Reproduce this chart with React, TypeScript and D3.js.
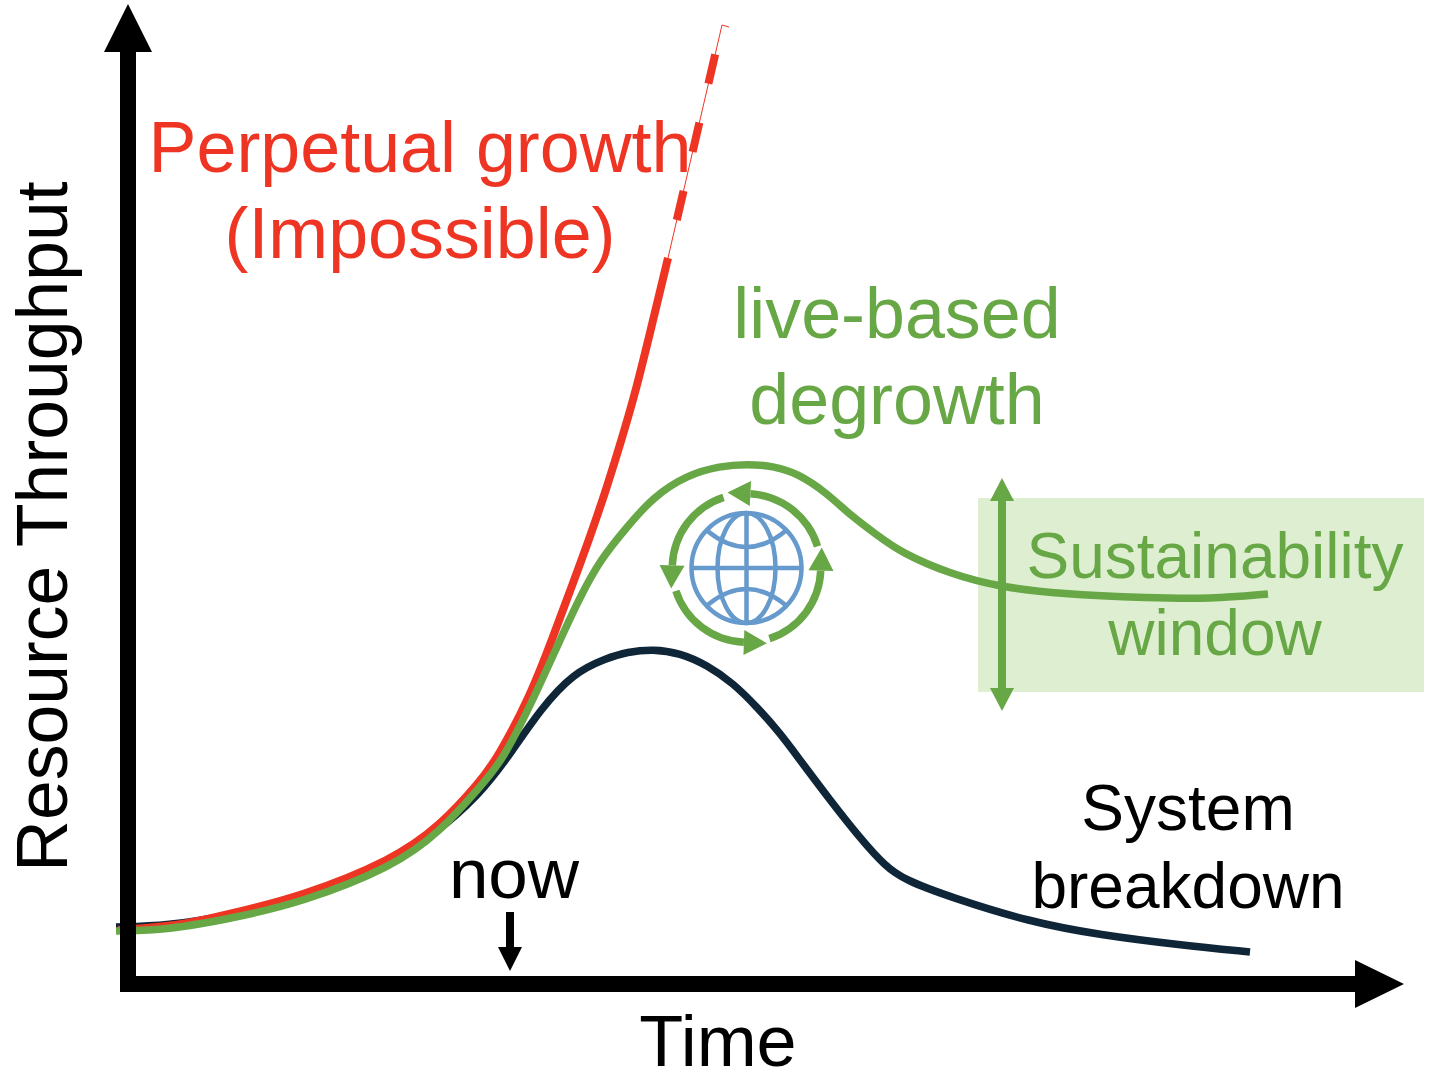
import * as d3 from 'd3';

// Values: time and throughput, in picture units from the axis origin.
const BREAKDOWN = [
  [-12, 57], [39, 58], [105, 69], [172, 85], [252, 114], [302, 146], [352, 189], [385, 234], [412, 274],
  [445, 311], [479, 326], [499, 332], [525, 335], [552, 331], [579, 319], [605, 301], [629, 277], [652, 251],
  [672, 224], [702, 184], [732, 146], [757, 118], [777, 104], [822, 87], [902, 62], [972, 49], [1052, 39], [1122, 32],
];
const PERPETUAL = [
  [-10, 54], [52, 58], [105, 71], [172, 87], [265, 124], [312, 158], [352, 202], [370, 227], [402, 287],
  [425, 347], [445, 401], [462, 447], [479, 497], [495, 549], [508, 594], [522, 651], [540, 726],
];
const PERPETUAL_PROJECTED = [[540, 726], [594, 959]];
const DEGROWTH = [
  [-12, 53], [39, 54], [105, 66], [172, 81], [265, 117], [312, 152], [352, 197], [375, 224], [405, 284],
  [432, 344], [452, 387], [472, 424], [499, 457], [525, 487], [559, 509], [592, 518], [619, 520], [645, 518],
  [669, 511], [699, 491], [722, 469], [749, 449], [772, 432], [822, 410], [872, 397], [932, 390], [1022, 386],
  [1082, 385], [1140, 390],
];
const WINDOW_TIME = [850, 1296];
const WINDOW_LEVEL = [292, 486];
const WINDOW_ARROW = [273, 506];
const NOW_TIME = 382;
const NOW_ARROW = [13, 72];
const RING_STARTS = [73, -18, -108, -198];

const RED_LABEL = ['Perpetual growth', '(Impossible)'];
const GREEN_LABEL = ['live-based', 'degrowth'];
const WINDOW_LABEL = ['Sustainability', 'window'];
const BLACK_LABEL = ['System', 'breakdown'];

const RED = '#EE3423';
const GREEN = '#67A745';
const NAVY = '#0F2538';
const BLUE = '#6699CC';
const FONT = '"Liberation Sans", Arial, sans-serif';

const x = d3.scaleLinear().domain([0, 1272]).range([128, 1400]);
const y = d3.scaleLinear().domain([0, 974]).range([984, 10]);

const line = d3.line<number[]>()
  .x(d => x(d[0]))
  .y(d => y(d[1]))
  .curve(d3.curveBasis);

function Globe() {
  const ring = d3.arc();
  return (
    <g transform="translate(746.5,568)">
      <g fill="none" stroke={BLUE} strokeWidth={4.5}>
        <circle r={55} />
        <ellipse rx={29} ry={55} />
        <line x1={-55} x2={55} />
        <line y1={-55} y2={55} />
        <path d="M-39,-37 Q0,-5 39,-37" />
        <path d="M-39,37 Q0,5 39,37" />
      </g>
      {RING_STARTS.map(a => {
        const [from, to] = [a - 70, a].map(d => (d * Math.PI) / 180);
        const d = ring({ innerRadius: 70.5, outerRadius: 78, startAngle: from, endAngle: to } as any);
        return (
          <g key={a}>
            <path d={d ?? ''} fill={GREEN} />
            <path transform={`rotate(${a - 70}) translate(0,-74.5)`} d="M0,-12.5 L0,12.5 L-23,0 Z" fill={GREEN} />
          </g>
        );
      })}
    </g>
  );
}

function Lines({ lines, cx, baselines, size, fill }: { lines: string[]; cx: number; baselines: number[]; size: number; fill: string }) {
  return (
    <g textAnchor="middle" fontSize={size} fill={fill}>
      {lines.map((t, i) => (
        <text key={t} x={cx} y={baselines[i]}>{t}</text>
      ))}
    </g>
  );
}

export default function App() {
  const straight = d3.line<number[]>().x(d => x(d[0])).y(d => y(d[1]));
  const projected = straight(PERPETUAL_PROJECTED) ?? '';
  const tipX = x(PERPETUAL_PROJECTED[1][0]);
  const tipY = y(PERPETUAL_PROJECTED[1][1]);
  const nowX = x(NOW_TIME);
  const arrowX = x(WINDOW_TIME[0]) + 24;

  return (
    <svg
      width={1440}
      height={1080}
      viewBox="0 0 1440 1080"
      style={{ position: 'absolute', left: 0, top: 0, background: '#fff' }}
      fontFamily={FONT}
    >
      <rect
        x={x(WINDOW_TIME[0])}
        y={y(WINDOW_LEVEL[1])}
        width={x(WINDOW_TIME[1]) - x(WINDOW_TIME[0])}
        height={y(WINDOW_LEVEL[0]) - y(WINDOW_LEVEL[1])}
        fill="#DDEFD0"
      />

      <path d={line(BREAKDOWN) ?? ''} fill="none" stroke={NAVY} strokeWidth={7.5} />
      <path d={line(PERPETUAL) ?? ''} fill="none" stroke={RED} strokeWidth={8} />
      <path d={projected} fill="none" stroke={RED} strokeWidth={1} />
      <path d={projected} fill="none" stroke={RED} strokeWidth={8} strokeDasharray="30 40" strokeDashoffset={31} />
      <path d={`M${tipX},${tipY} l7,2`} fill="none" stroke={RED} strokeWidth={1} />
      <path d={line(DEGROWTH) ?? ''} fill="none" stroke={GREEN} strokeWidth={7.5} />

      <Globe />

      {/* window double arrow */}
      <g fill={GREEN}>
        <rect x={arrowX - 4} y={y(WINDOW_ARROW[1]) + 16} width={8} height={y(WINDOW_ARROW[0]) - y(WINDOW_ARROW[1]) - 32} />
        <path d={`M${arrowX},${y(WINDOW_ARROW[1])} l12,23 h-24 Z`} />
        <path d={`M${arrowX},${y(WINDOW_ARROW[0])} l12,-23 h-24 Z`} />
      </g>

      {/* axes */}
      <g fill="#000">
        <rect x={120} y={40} width={16} height={952} />
        <rect x={120} y={976} width={1250} height={16} />
        <path d="M128,4 L152,52 H104 Z" />
        <path d="M1404,984 L1355,1008 V960 Z" />
      </g>

      {/* now marker */}
      <g fill="#000">
        <rect x={nowX - 4} y={y(NOW_ARROW[1])} width={8} height={40} />
        <path d={`M${nowX - 12},${y(NOW_ARROW[0]) - 24} h24 l-12,24 Z`} />
      </g>

      <Lines lines={RED_LABEL} cx={420} baselines={[172, 258]} size={71.8} fill={RED} />
      <Lines lines={GREEN_LABEL} cx={897} baselines={[338, 424]} size={71.8} fill={GREEN} />
      <Lines lines={WINDOW_LABEL} cx={1215} baselines={[578, 655]} size={64} fill={GREEN} />
      <Lines lines={BLACK_LABEL} cx={1188} baselines={[830, 908]} size={64} fill="#000" />
      <Lines lines={['now']} cx={514} baselines={[898]} size={71} fill="#000" />
      <Lines lines={['Time']} cx={718} baselines={[1066]} size={72} fill="#000" />
      <text transform="translate(67,526.5) rotate(-90)" textAnchor="middle" fontSize={71.5} fill="#000">
        Resource Throughput
      </text>
    </svg>
  );
}
